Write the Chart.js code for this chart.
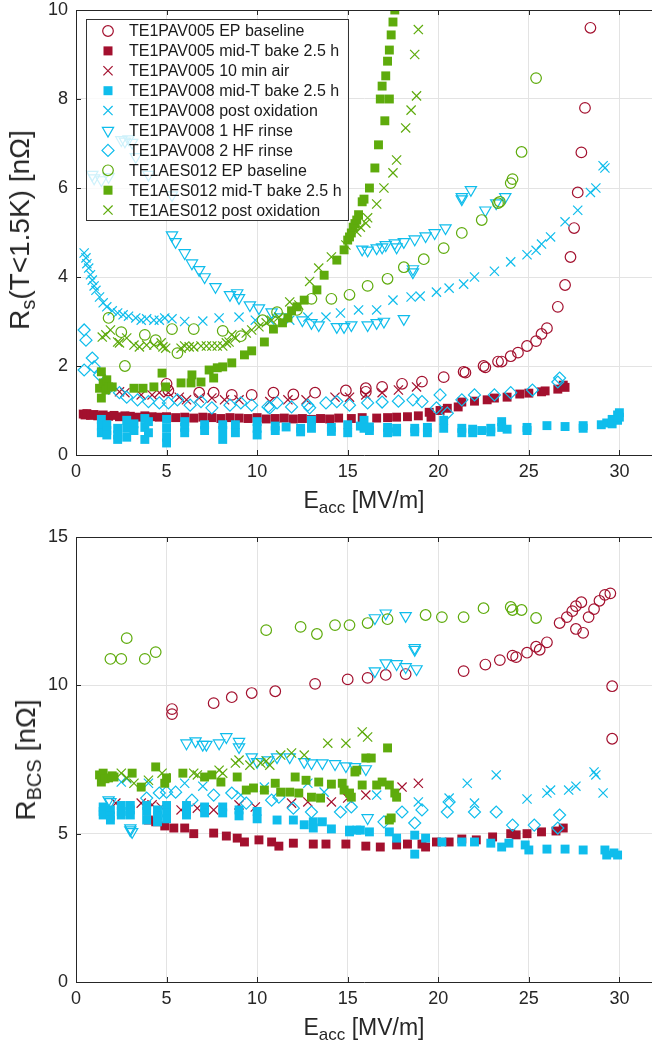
<!DOCTYPE html>
<html>
<head>
<meta charset="utf-8">
<script src="https://cdn.jsdelivr.net/npm/chart.js@4.4.0/dist/chart.umd.min.js"></script>
<style>
  body { margin: 0; background: #fff; width: 652px; height: 1051px; position: relative; overflow: hidden;
         font-family: "Liberation Sans", Arial, sans-serif; color: #262626; }
  canvas { position: absolute; left: 0; }
  .lab { position: absolute; font-size: 23px; line-height: 1; white-space: nowrap; transform: translate(-50%, -50%); }
  .lab sub { font-size: 17px; vertical-align: -5px; }
  .rot { font-size: 28px; transform: translate(-50%, -50%) rotate(-90deg); }
  .rot sub { font-size: 20px; vertical-align: -6px; }
</style>
</head>
<body>
<canvas id="rs" width="652" height="525" style="top:0"></canvas>
<canvas id="bcs" width="652" height="526" style="top:525px"></canvas>
<div class="lab" style="left:364px;top:502px">E<sub>acc</sub> [MV/m]</div>
<div class="lab" style="left:364px;top:1029px">E<sub>acc</sub> [MV/m]</div>
<div class="lab rot" style="left:22px;top:230px">R<sub>s</sub>(T&lt;1.5K) [nΩ]</div>
<div class="lab rot" style="left:28px;top:760px">R<sub>BCS</sub> [nΩ]</div>
<script>
// values: [Eacc in MV/m, R in nOhm]

// ---- upper panel: Rs(T<1.5K) ----
const pav005EpRs = [[5.0,1.6],[5.1,1.45],[6.8,1.4],[7.6,1.4],[8.6,1.35],[9.7,1.35],[10.9,1.4],[12.0,1.36],[13.2,1.4],[14.9,1.45],[16.0,1.5],[16.0,1.42],[16.9,1.53],[18.0,1.6],[19.1,1.65],[20.3,1.75],[21.4,1.87],[21.5,1.85],[22.5,2.0],[22.6,1.97],[23.3,2.1],[23.5,2.1],[24.0,2.22],[24.4,2.3],[24.9,2.45],[25.4,2.56],[25.7,2.72],[26.0,2.85],[26.6,3.33],[27.0,3.82],[27.3,4.45],[27.5,5.1],[27.7,5.9],[27.9,6.8],[28.1,7.8],[28.4,9.6]];
const pav005BakeRs = [[0.4,0.92],[0.5,0.9],[0.6,0.93],[0.8,0.89],[1.0,0.91],[1.2,0.88],[1.5,0.9],[1.8,0.87],[2.1,0.89],[2.4,0.86],[2.7,0.88],[3.0,0.87],[3.4,0.85],[3.8,0.88],[4.2,0.86],[4.6,0.85],[5.0,0.86],[5.5,0.84],[6.0,0.85],[6.5,0.83],[7.0,0.85],[7.5,0.84],[8.0,0.82],[8.5,0.84],[9.0,0.83],[9.5,0.82],[10.0,0.84],[10.5,0.81],[11.0,0.82],[11.5,0.83],[12.0,0.81],[12.5,0.82],[13.0,0.8],[13.5,0.82],[14.0,0.81],[14.5,0.83],[15.2,0.82],[15.8,0.84],[16.6,0.83],[17.2,0.84],[17.7,0.85],[18.3,0.86],[18.9,0.88],[19.5,0.96],[19.6,0.85],[20.1,1.0],[20.5,1.05],[21.1,1.08],[21.3,1.19],[22.0,1.21],[22.7,1.24],[23.1,1.28],[23.8,1.3],[24.5,1.37],[25.0,1.39],[25.7,1.42],[25.9,1.44],[26.6,1.48],[26.9,1.57],[27.0,1.52]];
const pav005AirRs = [[2.4,1.42],[2.7,1.4],[3.6,1.35],[4.2,1.35],[4.6,1.4],[5.1,1.4],[5.7,1.3],[6.1,1.24],[6.8,1.28],[7.5,1.28],[8.2,1.24],[9.0,1.24],[10.7,1.2],[11.7,1.24],[12.7,1.24],[14.3,1.3],[15.1,1.3],[16.0,1.35],[16.9,1.4],[17.8,1.46],[18.8,1.53]];
const pav008BakeRs = [[1.4,0.8],[1.4,0.65],[1.4,0.5],[1.7,0.68],[1.7,0.55],[1.7,0.45],[2.3,0.6],[2.3,0.45],[2.3,0.35],[2.8,0.78],[2.8,0.6],[2.8,0.4],[3.2,0.7],[3.2,0.55],[3.8,0.82],[3.8,0.62],[3.8,0.35],[4.0,0.75],[4.0,0.5],[5.0,0.8],[5.0,0.6],[5.0,0.4],[5.0,0.27],[6.0,0.75],[6.0,0.62],[6.0,0.5],[7.1,0.68],[7.1,0.55],[8.1,0.68],[8.1,0.55],[8.1,0.35],[8.8,0.68],[8.8,0.5],[10.0,0.75],[10.0,0.6],[10.0,0.45],[11.0,0.65],[11.0,0.55],[11.6,0.63],[12.4,0.6],[12.4,0.52],[13.0,0.78],[13.0,0.6],[14.1,0.62],[14.1,0.53],[15.0,0.68],[15.0,0.5],[15.7,0.65],[15.9,0.78],[15.9,0.6],[16.2,0.63],[16.2,0.55],[17.2,0.62],[17.2,0.5],[17.7,0.6],[17.7,0.52],[18.7,0.6],[18.7,0.52],[19.4,0.62],[19.4,0.5],[20.3,0.78],[20.3,0.6],[21.3,0.6],[21.3,0.5],[21.9,0.58],[21.9,0.5],[22.4,0.55],[22.9,0.6],[22.9,0.52],[23.5,0.75],[23.5,0.62],[23.8,0.58],[24.9,0.62],[24.9,0.55],[26.0,0.66],[27.0,0.64],[28.0,0.66],[28.0,0.6],[29.0,0.68],[29.3,0.72],[29.6,0.8],[29.6,0.7],[29.9,0.9],[29.9,0.78],[30.0,0.95],[30.0,0.85]];
const pav008OxRs = [[0.45,4.54],[0.55,4.43],[0.6,4.3],[0.7,4.2],[0.8,4.05],[0.9,3.93],[1.0,3.8],[1.1,3.7],[1.3,3.55],[1.5,3.42],[1.7,3.33],[2.0,3.24],[2.3,3.19],[2.6,3.15],[2.9,3.12],[3.3,3.08],[3.6,3.03],[3.9,3.06],[4.3,3.03],[4.6,3.03],[4.9,3.08],[5.3,3.06],[6.0,3.0],[7.0,3.01],[7.9,3.08],[9.0,3.1],[9.9,3.03],[10.7,3.03],[11.8,3.03],[12.8,3.1],[13.8,3.1],[14.6,3.19],[15.6,3.26],[16.6,3.26],[17.5,3.48],[18.5,3.55],[19.0,3.57],[19.9,3.66],[20.6,3.75],[21.4,3.84],[22.0,4.0],[23.1,4.13],[24.0,4.34],[24.9,4.5],[25.4,4.6],[25.7,4.74],[26.2,4.9],[27.0,5.24],[27.7,5.5],[28.4,5.9],[28.7,6.0],[29.1,6.5],[29.2,6.45]];
const pav008Hf1Rs = [[0.9,6.3],[1.0,6.22],[1.4,6.18],[1.8,6.25],[2.5,7.08],[2.7,7.05],[2.9,7.1],[3.1,7.02],[3.3,6.7],[4.0,6.3],[5.3,5.84],[5.3,4.94],[5.5,4.79],[6.0,4.54],[6.4,4.31],[6.8,4.16],[7.1,4.0],[7.7,3.78],[8.5,3.6],[8.9,3.64],[9.0,3.53],[9.6,3.37],[10.1,3.3],[10.8,3.21],[11.3,3.1],[12.5,3.03],[13.0,2.97],[13.4,2.92],[14.4,2.88],[14.8,2.88],[15.2,2.92],[16.1,2.92],[16.6,2.97],[17.0,3.0],[18.1,3.06],[18.6,4.18],[18.6,4.11],[15.8,4.62],[16.1,4.6],[16.6,4.65],[16.9,4.67],[17.1,4.72],[17.6,4.76],[17.7,4.67],[18.1,4.79],[18.7,4.85],[19.3,4.92],[19.8,4.99],[20.4,5.1],[21.3,5.8],[21.3,5.75],[21.8,5.96],[22.6,5.5],[23.2,5.66],[23.7,5.8]];
const pav008Hf2Rs = [[0.45,2.81],[0.55,2.58],[0.45,1.91],[0.9,2.18],[1.0,1.98],[1.3,1.8],[1.8,1.5],[2.4,1.4],[2.8,1.3],[3.4,1.24],[4.0,1.2],[4.6,1.17],[5.1,1.17],[5.6,1.24],[6.3,1.12],[6.9,1.2],[7.5,1.06],[8.5,1.12],[9.1,1.17],[9.7,1.12],[10.6,1.08],[10.7,1.06],[11.1,1.17],[11.9,1.08],[12.8,1.12],[12.9,1.06],[13.8,1.17],[14.4,1.2],[15.1,1.12],[16.1,1.17],[16.9,1.19],[17.8,1.21],[18.6,1.24],[19.1,1.2],[19.9,1.06],[20.1,1.35],[20.5,0.94],[21.3,1.24],[22.0,1.35],[23.1,1.35],[24.0,1.4],[25.2,1.46],[26.6,1.64],[26.7,1.73]];
const aes012EpRs = [[1.8,3.08],[2.5,2.76],[2.7,2.0],[3.8,2.7],[4.4,2.58],[5.3,2.83],[5.6,2.29],[6.5,2.83],[8.1,2.79],[9.1,2.67],[10.3,3.03],[11.1,3.21],[12.2,3.26],[13.0,3.51],[14.1,3.51],[15.1,3.6],[16.1,3.8],[17.2,3.96],[18.1,4.22],[19.2,4.4],[20.3,4.65],[21.3,4.99],[22.4,5.28],[23.3,5.66],[23.4,5.69],[24.0,6.11],[24.1,6.2],[24.6,6.81],[25.4,8.47]];
const aes012BakeRs = [[1.3,1.5],[1.4,1.87],[1.4,1.28],[1.5,1.62],[1.65,1.46],[1.7,1.69],[1.8,1.53],[2.0,1.53],[3.2,1.5],[3.7,1.5],[4.3,1.53],[4.75,1.84],[4.95,1.53],[5.8,1.62],[6.35,1.62],[6.4,1.8],[6.9,1.64],[7.35,1.91],[7.6,1.73],[7.8,1.96],[8.1,1.98],[8.6,2.07],[9.3,2.25],[9.7,2.34],[10.4,2.54],[10.9,2.83],[11.4,2.97],[11.7,3.08],[11.9,3.24],[12.2,3.33],[12.6,3.48],[13.3,3.71],[13.7,4.04],[14.4,4.38],[14.8,4.61],[15.0,4.83],[15.1,4.9],[15.2,4.99],[15.3,5.12],[15.4,5.2],[15.5,5.28],[15.6,5.4],[15.8,5.69],[15.9,5.75],[16.2,6.0],[16.5,6.45],[16.7,6.97],[17.05,7.51],[16.8,8.0],[17.3,8.0],[16.9,8.29],[17.1,8.52],[17.2,8.85],[17.3,9.1],[17.4,9.44],[17.5,9.73],[17.6,10.0]];
const aes012OxRs = [[1.45,2.65],[1.65,2.7],[1.9,2.81],[2.3,2.54],[2.4,2.52],[2.8,2.63],[3.2,2.47],[3.5,2.43],[3.9,2.47],[4.3,2.47],[4.7,2.52],[4.8,2.43],[4.95,2.4],[5.8,2.4],[6.0,2.45],[6.25,2.43],[6.5,2.43],[6.9,2.45],[7.2,2.45],[7.5,2.45],[7.8,2.45],[8.1,2.45],[8.3,2.52],[8.45,2.54],[8.6,2.7],[8.8,2.63],[9.4,2.74],[9.7,2.81],[10.1,2.88],[10.5,2.97],[10.8,3.03],[11.2,3.1],[11.8,3.44],[12.3,3.37],[12.9,3.9],[13.4,4.2],[14.1,4.45],[14.9,4.72],[15.5,5.01],[15.7,5.12],[16.0,5.21],[16.1,5.33],[16.6,5.64],[17.0,6.0],[17.5,6.34],[17.7,6.63],[18.2,7.35],[18.5,7.75],[18.8,8.07],[18.7,9.0],[18.9,9.56]];

// ---- lower panel: R_BCS ----
const pav005EpBcs = [[5.3,9.2],[5.3,9.03],[7.6,9.4],[8.6,9.6],[9.7,9.74],[11.0,9.8],[13.2,10.05],[15.0,10.2],[16.1,10.25],[17.1,10.35],[18.2,10.38],[21.4,10.48],[22.6,10.7],[23.4,10.85],[24.1,11.0],[24.3,10.95],[24.9,11.1],[25.4,11.3],[25.6,11.2],[26.0,11.45],[26.7,12.1],[27.1,12.3],[27.4,12.5],[27.6,12.67],[27.6,11.9],[27.9,12.8],[28.0,11.77],[28.3,12.3],[28.6,12.57],[28.9,12.85],[29.2,13.05],[29.5,13.1],[29.6,9.97],[29.6,8.2]];
const pav005BakeBcs = [[4.0,5.46],[4.4,5.4],[4.9,5.26],[5.4,5.19],[6.0,5.19],[6.5,5.0],[7.6,5.02],[8.3,4.92],[8.9,4.85],[9.3,4.72],[10.1,4.79],[10.8,4.72],[11.2,4.58],[12.0,4.68],[13.1,4.65],[13.8,4.65],[14.9,4.65],[16.0,4.58],[16.8,4.55],[17.7,4.62],[18.3,4.65],[19.1,4.65],[19.3,4.55],[19.9,4.72],[20.6,4.72],[21.3,4.82],[22.1,4.79],[23.0,4.89],[24.0,5.0],[24.3,4.96],[24.9,5.0],[25.7,5.06],[26.5,5.09],[26.9,5.19]];
const pav005AirBcs = [[2.2,6.03],[3.6,6.03],[4.2,5.97],[4.7,5.9],[5.8,5.8],[6.7,5.86],[7.6,5.8],[9.0,5.97],[9.9,5.9],[11.9,6.03],[12.8,6.07],[14.1,6.07],[15.0,6.2],[16.0,6.3],[18.0,6.57],[18.9,6.7]];
const pav008BakeBcs = [[1.5,5.9],[1.5,5.75],[1.5,5.63],[1.9,5.8],[1.9,5.6],[1.9,5.46],[2.5,5.95],[2.5,5.75],[2.5,5.63],[3.0,5.95],[3.0,5.8],[3.0,5.63],[3.9,5.95],[3.9,5.75],[3.9,5.46],[4.5,5.8],[4.5,5.6],[4.5,5.4],[5.0,5.95],[5.0,5.7],[5.0,5.5],[6.1,5.95],[6.1,5.75],[6.1,5.63],[7.1,5.9],[7.1,5.7],[8.1,5.9],[8.1,5.7],[9.0,5.8],[9.0,5.6],[10.0,5.75],[10.0,5.5],[11.1,5.46],[12.0,5.46],[12.6,5.3],[13.1,5.4],[13.1,5.19],[13.6,5.4],[14.1,5.16],[15.1,5.12],[15.1,5.06],[15.5,5.12],[15.7,5.12],[16.2,5.06],[17.3,5.06],[17.7,4.85],[18.7,4.95],[18.7,4.31],[19.3,4.85],[20.2,4.72],[21.3,4.72],[22.0,4.72],[22.9,4.68],[23.5,4.55],[23.9,4.68],[24.8,4.62],[25.0,4.45],[26.0,4.48],[27.0,4.48],[28.0,4.45],[29.2,4.45],[29.3,4.28],[29.7,4.35],[29.9,4.28]];
const pav008OxBcs = [[2.5,6.74],[2.8,6.85],[4.0,6.7],[6.0,6.7],[7.0,6.6],[9.1,6.3],[10.4,6.57],[12.8,6.7],[13.7,6.4],[16.6,6.3],[18.9,6.07],[20.6,6.2],[21.6,6.7],[22.0,6.03],[23.2,6.98],[24.9,6.17],[26.0,6.37],[26.2,6.47],[27.2,6.47],[27.6,6.6],[28.6,7.08],[28.7,6.98],[29.1,6.37]];
const pav008Hf1Bcs = [[1.8,6.13],[1.9,6.07],[3.0,5.19],[3.1,5.06],[3.0,5.12],[6.1,8.05],[6.6,8.12],[7.0,8.0],[7.2,8.0],[7.9,8.05],[8.3,8.26],[9.0,8.1],[9.0,7.92],[9.7,7.58],[10.0,7.42],[10.6,7.48],[11.1,7.58],[11.8,7.58],[12.6,7.42],[13.0,7.38],[13.6,7.38],[14.3,7.35],[14.9,7.28],[15.4,7.25],[16.0,7.18],[16.1,5.53],[16.5,12.27],[17.1,12.43],[18.2,12.34],[16.5,10.48],[17.1,10.75],[17.7,10.72],[18.2,10.62],[18.8,10.55],[18.7,11.26],[18.7,11.2]];
const pav008Hf2Bcs = [[3.9,6.2],[4.6,6.37],[5.0,6.4],[5.5,6.4],[6.4,6.13],[7.6,6.3],[8.6,6.37],[9.4,6.03],[10.8,6.13],[11.2,6.23],[12.0,5.86],[13.0,5.73],[14.6,5.73],[15.2,5.9],[17.0,5.4],[18.0,5.73],[18.7,5.36],[19.1,5.8],[20.5,5.73],[20.6,6.07],[22.0,5.73],[23.2,5.73],[24.1,5.29],[25.3,5.29],[26.6,5.19],[26.7,5.63]];
const aes012EpBcs = [[1.9,10.89],[2.5,10.89],[2.8,11.59],[3.8,10.89],[4.4,11.12],[10.5,11.86],[12.4,11.97],[13.3,11.73],[14.3,12.03],[15.1,12.03],[16.1,12.1],[17.2,12.23],[19.3,12.37],[20.2,12.3],[21.4,12.3],[22.5,12.6],[24.0,12.64],[24.1,12.54],[24.6,12.54],[25.4,12.27]];
const aes012BakeBcs = [[1.3,6.98],[1.4,6.74],[1.5,7.04],[1.6,6.85],[1.8,6.88],[2.0,6.95],[2.1,6.91],[3.1,7.04],[3.6,6.57],[4.4,7.25],[4.9,6.7],[5.0,6.88],[5.9,7.04],[7.1,6.91],[7.5,6.98],[8.0,6.74],[8.9,6.91],[9.4,6.47],[9.8,6.54],[10.4,6.47],[11.0,6.7],[11.3,6.4],[11.8,6.4],[12.1,6.91],[12.3,6.37],[12.7,6.8],[13.0,6.23],[13.4,6.74],[13.5,6.2],[14.1,6.67],[14.7,6.7],[14.8,6.47],[15.1,6.37],[15.2,6.23],[15.4,7.08],[15.5,7.14],[15.8,6.64],[16.0,7.55],[16.3,7.55],[16.6,6.64],[16.9,6.74],[17.2,7.89],[17.3,6.64],[17.6,6.37],[17.7,6.23],[17.4,5.53],[17.3,5.46]];
const aes012OxBcs = [[2.5,7.04],[2.8,6.88],[3.2,6.7],[4.0,6.8],[4.75,7.04],[4.95,6.88],[6.5,7.04],[6.7,6.98],[7.9,7.14],[8.1,7.04],[8.8,7.38],[9.0,7.48],[9.6,7.31],[10.2,7.38],[10.5,7.45],[10.7,7.31],[11.3,7.65],[11.9,7.72],[12.6,7.65],[13.9,8.05],[14.9,8.05],[15.8,8.43],[16.1,8.26]];

const legendLabels = ['TE1PAV005 EP baseline', 'TE1PAV005 mid-T bake 2.5 h', 'TE1PAV005 10 min air',
  'TE1PAV008 mid-T bake 2.5 h', 'TE1PAV008 post oxidation', 'TE1PAV008 1 HF rinse', 'TE1PAV008 2 HF rinse',
  'TE1AES012 EP baseline', 'TE1AES012 mid-T bake 2.5 h', 'TE1AES012 post oxidation'];
const rsSeries = [pav005EpRs, pav005BakeRs, pav005AirRs, pav008BakeRs, pav008OxRs, pav008Hf1Rs, pav008Hf2Rs, aes012EpRs, aes012BakeRs, aes012OxRs];
const bcsSeries = [pav005EpBcs, pav005BakeBcs, pav005AirBcs, pav008BakeBcs, pav008OxBcs, pav008Hf1Bcs, pav008Hf2Bcs, aes012EpBcs, aes012BakeBcs, aes012OxBcs];

const eaccMax = 31.8;

// marker look for each series
const RED = '#A3102E', CYAN = '#0FBDEC', GREEN = '#5EAB0C';
const marks = [
  ['circle', RED], ['square', RED], ['x', RED],
  ['square', CYAN], ['x', CYAN], ['tri', CYAN], ['diamond', CYAN],
  ['circle', GREEN], ['square', GREEN], ['x', GREEN]
];

function dataset(points, i) {
  const [kind, color] = marks[i];
  const base = { data: points.map(p => ({ x: p[0], y: p[1] })), showLine: false, order: 10 - i,
    borderColor: color, borderWidth: 1.2, pointRotation: 0, label: legendLabels[i] };
  if (kind == 'circle') return { ...base, pointStyle: 'circle', pointRadius: 5.3, backgroundColor: 'rgba(0,0,0,0)' };
  if (kind == 'square') return { ...base, pointStyle: 'rect', pointRadius: 6.3, backgroundColor: color, borderWidth: 0 };
  if (kind == 'x') return { ...base, pointStyle: 'crossRot', pointRadius: 6.5 };
  if (kind == 'tri') return { ...base, pointStyle: 'triangle', pointRadius: 6.5, pointRotation: 180, backgroundColor: 'rgba(0,0,0,0)' };
  return { ...base, pointStyle: 'rectRot', pointRadius: 6, backgroundColor: 'rgba(0,0,0,0)' };
}

// legend marker, drawn by hand
function drawMark(ctx, kind, color, x, y) {
  ctx.strokeStyle = color; ctx.fillStyle = color; ctx.lineWidth = 1.2;
  ctx.beginPath();
  if (kind == 'circle') { ctx.arc(x, y, 5.3, 0, Math.PI * 2); ctx.stroke(); }
  else if (kind == 'square') { ctx.fillRect(x - 4.5, y - 4.5, 9, 9); }
  else if (kind == 'x') { ctx.moveTo(x - 4.6, y - 4.6); ctx.lineTo(x + 4.6, y + 4.6); ctx.moveTo(x + 4.6, y - 4.6); ctx.lineTo(x - 4.6, y + 4.6); ctx.stroke(); }
  else if (kind == 'tri') { ctx.moveTo(x - 5.6, y - 3.2); ctx.lineTo(x + 5.6, y - 3.2); ctx.lineTo(x, y + 6.5); ctx.closePath(); ctx.stroke(); }
  else { ctx.moveTo(x, y - 6); ctx.lineTo(x + 6, y); ctx.lineTo(x, y + 6); ctx.lineTo(x - 6, y); ctx.closePath(); ctx.stroke(); }
}

const legendBox = {
  id: 'legendBox',
  afterDraw(chart) {
    if (chart.canvas.id != 'rs') return;
    const ctx = chart.ctx;
    ctx.save();
    ctx.fillStyle = 'rgba(255,255,255,0.8)';
    ctx.fillRect(86, 19, 262, 201);
    ctx.strokeStyle = '#333'; ctx.lineWidth = 1;
    ctx.strokeRect(86.5, 19.5, 262, 201);
    ctx.font = '16px "Liberation Sans", Arial, sans-serif';
    ctx.textBaseline = 'middle';
    legendLabels.forEach((txt, i) => {
      const y = 31 + i * 19.9;
      drawMark(ctx, marks[i][0], marks[i][1], 108, y);
      ctx.fillStyle = '#1a1a1a';
      ctx.fillText(txt, 129, y + 1);
    });
    ctx.restore();
  }
};

// matlab style frame: top line and short inward ticks
const frame = {
  id: 'frame',
  afterDraw(chart) {
    const { ctx, chartArea: a, scales } = chart;
    ctx.save();
    ctx.strokeStyle = '#262626'; ctx.lineWidth = 1;
    ctx.beginPath();
    ctx.moveTo(a.left, a.top + 0.5); ctx.lineTo(a.right, a.top + 0.5);
    scales.x.ticks.forEach(t => {
      const px = Math.round(scales.x.getPixelForValue(t.value)) + 0.5;
      ctx.moveTo(px, a.bottom); ctx.lineTo(px, a.bottom - 5);
      ctx.moveTo(px, a.top); ctx.lineTo(px, a.top + 5);
    });
    scales.y.ticks.forEach(t => {
      const py = Math.round(scales.y.getPixelForValue(t.value)) + 0.5;
      ctx.moveTo(a.left, py); ctx.lineTo(a.left + 5, py);
    });
    ctx.stroke();
    ctx.restore();
  }
};

function makeChart(id, series, yMax, yStep, padTop, xAxisHeight) {
  return new Chart(document.getElementById(id), {
    type: 'scatter',
    data: { datasets: series.map(dataset) },
    options: {
      responsive: false,
      animation: false,
      layout: { autoPadding: false, padding: { top: padTop, right: 0, left: 0, bottom: 0 } },
      plugins: { legend: { display: false }, tooltip: { enabled: false } },
      scales: {
        x: {
          type: 'linear', min: 0, max: eaccMax,
          ticks: { stepSize: 5, includeBounds: false, color: '#262626', padding: 6,
                   font: { size: 18, family: '"Liberation Sans", Arial, sans-serif' } },
          grid: { color: '#E3E3E3', drawTicks: false },
          border: { color: '#262626' },
          // keep the plot box fixed: no extra room for the edge labels
          afterFit: s => { s.height = xAxisHeight; s.paddingLeft = 0; s.paddingRight = 0; }
        },
        y: {
          min: 0, max: yMax,
          ticks: { stepSize: yStep, color: '#262626', padding: 8,
                   font: { size: 18, family: '"Liberation Sans", Arial, sans-serif' } },
          grid: { color: '#E3E3E3', drawTicks: false },
          border: { color: '#262626' },
          afterFit: s => { s.width = 76; s.paddingTop = 0; s.paddingBottom = 0; }
        }
      }
    },
    plugins: [frame, legendBox]
  });
}

makeChart('rs', rsSeries, 10, 2, 10, 70);
makeChart('bcs', bcsSeries, 15, 5, 12, 69);
</script>
</body>
</html>
